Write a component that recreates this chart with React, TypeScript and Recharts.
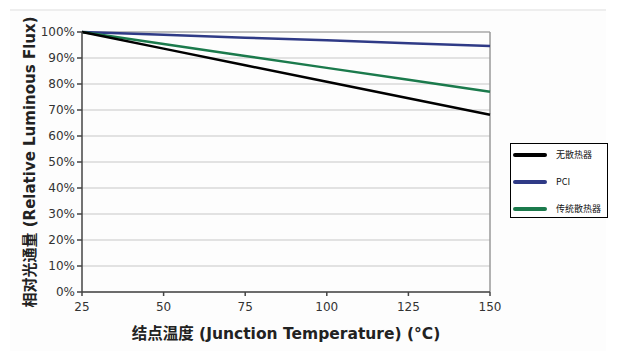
import React from "react";
import { LineChart, Line, XAxis, YAxis, CartesianGrid, ReferenceLine, Label } from "recharts";

const temps = [25, 50, 75, 100, 125, 150];
const noSink = [100, 93.6, 87.2, 80.9, 74.5, 68.2];
const pci = [100, 98.9, 97.8, 96.8, 95.7, 94.6];
const traditional = [100, 95.4, 90.8, 86.2, 81.6, 77.0];
const xTicks = [25, 50, 75, 100, 125, 150];
const yTicks = [0, 10, 20, 30, 40, 50, 60, 70, 80, 90, 100];
const seriesNames = ["无散热器", "PCI", "传统散热器"];
const seriesColors = ["#000000", "#2f3a86", "#1b7a4c"];

const data = temps.map((t, i) => ({ t, a: noSink[i], b: pci[i], c: traditional[i] }));

const LegendBox = () => (
  <div
    style={{
      position: "absolute",
      left: 510,
      top: 143,
      width: 98,
      height: 75,
      border: "1px solid #000",
      background: "#fff",
      boxSizing: "border-box",
    }}
  >
    {seriesNames.map((n, i) => (
      <div key={n} style={{ position: "absolute", left: 2, top: 6 + i * 27, display: "flex", alignItems: "center" }}>
        <div style={{ width: 34, height: 4, background: seriesColors[i], borderRadius: 2 }} />
        <span
          style={{
            marginLeft: 9,
            fontSize: 9,
            fontFamily: "'Noto Sans CJK SC', 'DejaVu Sans', sans-serif",
            color: "#111",
            lineHeight: "10px",
          }}
        >
          {n}
        </span>
      </div>
    ))}
  </div>
);

export default function App() {
  return (
    <div style={{ position: "absolute", left: 0, top: 0, width: 620, height: 361, background: "#fff" }}>
      <div
        style={{
          position: "absolute",
          left: 10,
          top: 9,
          width: 596,
          height: 340,
          borderTop: "2px solid #eeeeee",
          background: "#fdfdfd",
        }}
      />
      <LineChart
        width={620}
        height={361}
        data={data}
        margin={{ top: 32, right: 130, bottom: 0, left: 0 }}
        style={{ position: "absolute", left: 0, top: 0 }}
      >
        <CartesianGrid vertical={false} stroke="#d9d9d9" strokeWidth={1.5} />
        <XAxis
          dataKey="t"
          type="number"
          domain={[25, 150]}
          ticks={xTicks}
          height={69}
          tickSize={4}
          stroke="#444"
          strokeWidth={1.5}
          tick={{ fill: "#333", fontSize: 12, fontFamily: "'DejaVu Sans', sans-serif" }}
          tickMargin={6}
        >
          <Label
            value="结点温度 (Junction Temperature) (°C)"
            position="insideBottom"
            offset={22}
            style={{ fill: "#222", fontSize: 15.5, fontWeight: "bold", fontFamily: "'DejaVu Sans', 'Noto Sans CJK SC', sans-serif" }}
          />
        </XAxis>
        <YAxis
          type="number"
          domain={[0, 100]}
          ticks={yTicks}
          width={82}
          tickSize={5}
          stroke="#444"
          strokeWidth={1.5}
          tickFormatter={(v: number) => `${v}%`}
          tick={{ fill: "#333", fontSize: 12, fontFamily: "'DejaVu Sans', sans-serif" }}
        >
          <Label
            value="相对光通量 (Relative Luminous Flux)"
            angle={-90}
            position="insideLeft"
            offset={30}
            style={{ textAnchor: "middle", fill: "#222", fontSize: 15, fontWeight: "bold", fontFamily: "'DejaVu Sans', 'Noto Sans CJK SC', sans-serif" }}
          />
        </YAxis>
        <ReferenceLine x={150} stroke="#999" strokeWidth={1.5} />
        <ReferenceLine y={100} stroke="#999" strokeWidth={1} />
        <Line type="linear" dataKey="b" name={seriesNames[1]} stroke={seriesColors[1]} strokeWidth={2.5} dot={false} isAnimationActive={false} />
        <Line type="linear" dataKey="c" name={seriesNames[2]} stroke={seriesColors[2]} strokeWidth={2.5} dot={false} isAnimationActive={false} />
        <Line type="linear" dataKey="a" name={seriesNames[0]} stroke={seriesColors[0]} strokeWidth={2.5} dot={false} isAnimationActive={false} />
      </LineChart>
      <LegendBox />
    </div>
  );
}
